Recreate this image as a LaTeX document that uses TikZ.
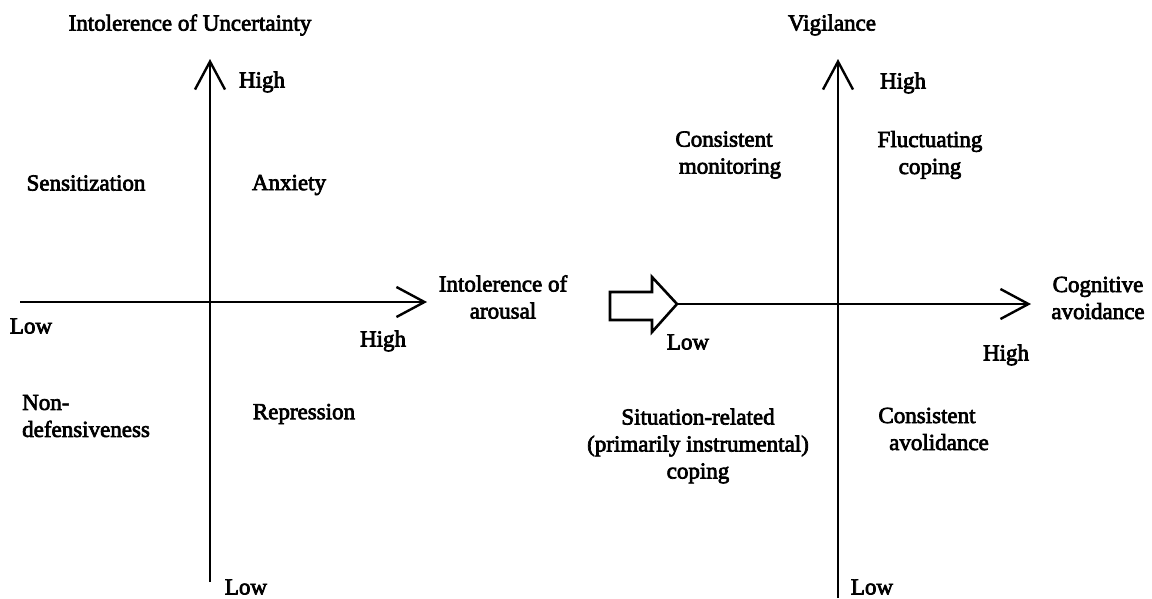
\documentclass[tikz,border=0pt]{standalone}
\usepackage{fontspec}
\setmainfont{Liberation Serif}
\newfontfamily\heavyserif{Liberation Serif}[FakeBold=3]
\usetikzlibrary{arrows.meta}
\begin{document}
\begin{tikzpicture}[x=1pt,y=-1pt,
  lbl/.style={font=\heavyserif\fontsize{23}{27}\selectfont, inner sep=0pt, align=center},
  axis/.style={line width=2.4pt, -{Straight Barb[length=28pt,width=30pt,line width=2.4pt]}},
  plainaxis/.style={line width=2.4pt}]
\path[use as bounding box] (0,0) rectangle (1152,598);

% left panel: axes
\coordinate (Lbot) at (210,582);
\coordinate (Ltop) at (210,59);
\coordinate (Lleft) at (20,302);
\coordinate (Lright) at (427,302);
\draw[axis] (Lbot) -- (Ltop);
\draw[axis] (Lleft) -- (Lright);

\node[lbl] (luTitle) at (190,25) {Intolerence of Uncertainty};
\node[lbl] (lHighV) at (262,82) {High};
\node[lbl] (lSens) at (86,183) {Sensitization};
\node[lbl] (lAnx) at (289,185) {Anxiety};
\node[lbl] (lLowH) at (31,326) {Low};
\node[lbl] (lHighH) at (383,341) {High};
\node[lbl] (lArousal) at (503,297) {Intolerence of\\arousal};
\node[lbl, align=left, anchor=west] (lNonDef) at (22,416) {Non-\\defensiveness};
\node[lbl] (lRep) at (304,414) {Repression};
\node[lbl] (lLowV) at (246,587) {Low};

% transition arrow between the panels
\draw[line width=2.6pt, line join=miter]
  (610,292) -- (652,292) -- (652,277) -- (677,304) -- (652,332) -- (652,320) -- (610,320) -- cycle;

% right panel: axes
\coordinate (Rbot) at (838,598);
\coordinate (Rtop) at (838,59);
\coordinate (Rleft) at (677,304);
\coordinate (Rright) at (1031,304);
\draw[plainaxis] (Rbot) -- (838,304);
\draw[axis] (838,304) -- (Rtop);
\draw[axis] (Rleft) -- (Rright);

\node[lbl] (rvTitle) at (832,25) {Vigilance};
\node[lbl] (rHighV) at (903,83) {High};
\node[lbl] (rMon) at (724,155) {Consistent\\\hspace*{12pt}monitoring};
\node[lbl] (rFluct) at (930,155) {Fluctuating\\coping};
\node[lbl] (rCog) at (1098,298) {Cognitive\\avoidance};
\node[lbl] (rLowH) at (688,342) {Low};
\node[lbl] (rHighH) at (1006,355) {High};
\node[lbl] (rSit) at (698,446) {Situation-related\\(primarily instrumental)\\coping};
\node[lbl] (rAvo) at (933,429) {Consistent\hspace*{12pt}\\\hspace*{12pt}avolidance};
\node[lbl] (rLowV) at (872,587) {Low};
\end{tikzpicture}
\end{document}
